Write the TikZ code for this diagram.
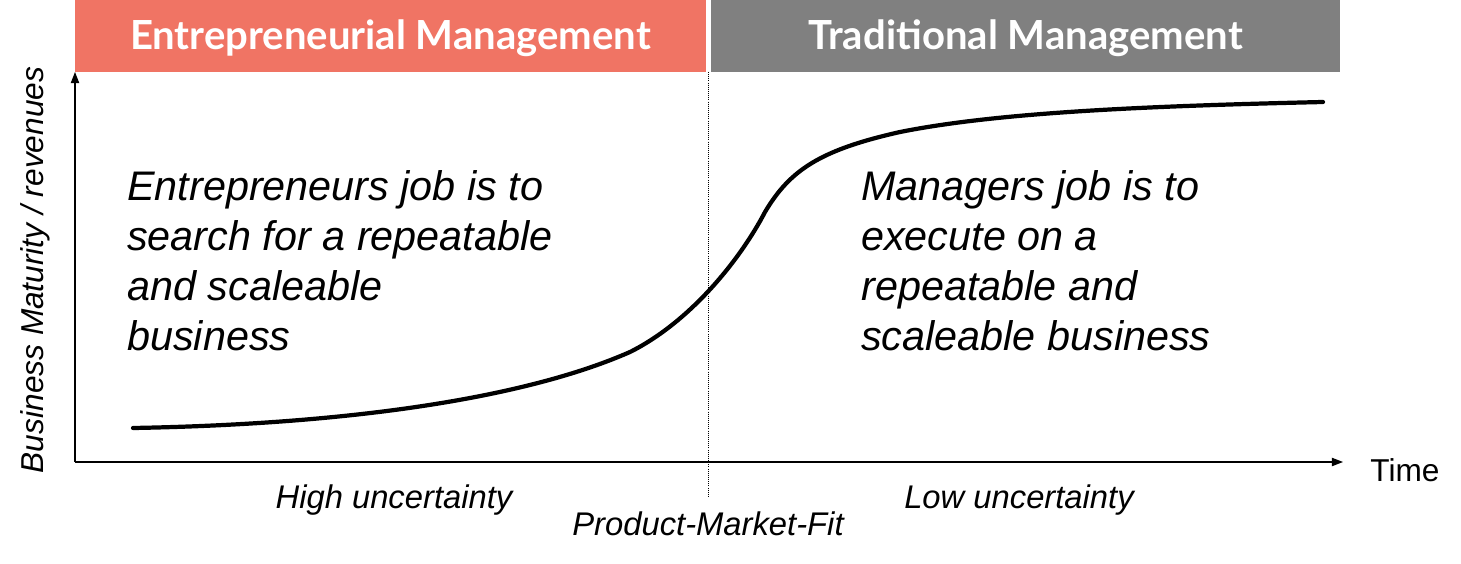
\documentclass[tikz,border=0pt]{standalone}
\usepackage{fontspec}
\setmainfont{Liberation Sans}
\newfontfamily\headfont{Lato}
\usetikzlibrary{arrows.meta}
\definecolor{entred}{HTML}{F07464}
\definecolor{tradgray}{HTML}{808080}
\begin{document}
\begin{tikzpicture}[x=0.025cm, y=-0.025cm,
    header/.style={draw=none, inner sep=0pt, font=\headfont\bfseries\fontsize{28.5}{32}\selectfont, text=white},
    axis/.style={-{Triangle[length=8pt,width=6pt]}, line width=0.8pt},
    bigtext/.style={align=left, anchor=north west, inner sep=0pt, font=\itshape\fontsize{29.4}{35.6}\selectfont},
    smalltext/.style={font=\itshape\fontsize{23.3}{26}\selectfont}
]
\useasboundingbox (0,0) rectangle (1461,564);

% Header bars
\fill[entred] (75,0) rectangle (706,72);
\fill[tradgray] (711,0) rectangle (1340,72);
\node[header] (entre) at (390.5,38) {Entrepreneurial Management};
\node[header] (trad) at (1025.5,38) {Traditional Management};

% Axes
\coordinate (origin) at (75,462);
\coordinate (ytop) at (75,72);
\coordinate (xend) at (1343,462);
\draw[axis] (origin) -- (ytop);
\draw[axis] (origin) -- (xend);
\node[font=\fontsize{22.5}{26}\selectfont] (time) at (1405,470) {Time};
\node[rotate=90, font=\itshape\fontsize{22.5}{26}\selectfont] (ylab) at (35,270) {Business Maturity / revenues};

% Product-Market-Fit divider
\coordinate (pmftop) at (708,72);
\coordinate (pmfbot) at (708,496);
\draw[densely dotted, line width=0.5pt] (pmftop) -- (pmfbot);

% Growth curve
\draw[line width=3pt, line cap=round] (133,428)
  .. controls (360,424) and (530,396) .. (630,352)
  .. controls (690,322) and (740,260) .. (765,212)
  .. controls (790,170) and (820,150) .. (900,132)
  .. controls (1000,112) and (1150,106) .. (1323,102);

% Texts
\node[bigtext] (entjob) at (127,170) {Entrepreneurs job is to\\search for a repeatable\\and scaleable\\business};
\node[bigtext] (manjob) at (861,170) {Managers job is to\\execute on a\\repeatable and\\scaleable business};
\node[smalltext] (high) at (394,500) {High uncertainty};
\node[smalltext] (low) at (1019,500) {Low uncertainty};
\node[smalltext] (pmf) at (708,524) {Product-Market-Fit};
\end{tikzpicture}
\end{document}
